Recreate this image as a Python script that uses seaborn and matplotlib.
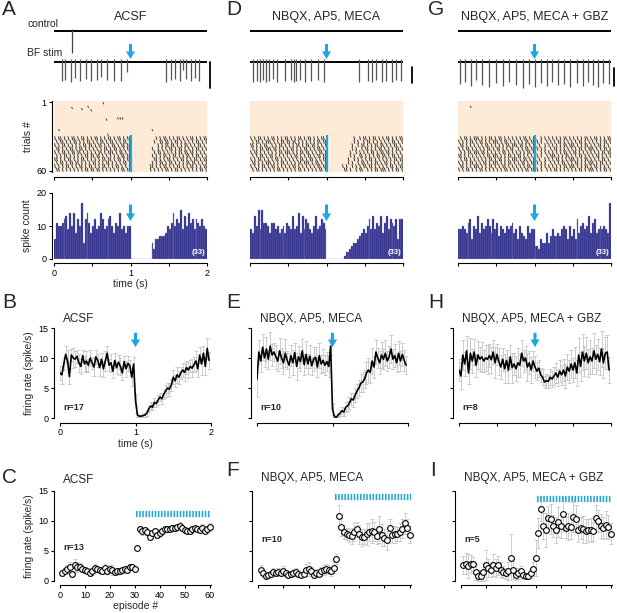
import numpy as np
import pandas as pd
import matplotlib
matplotlib.use("Agg")
import matplotlib.pyplot as plt
from matplotlib.collections import LineCollection
import seaborn as sns

# ---------------------------------------------------------------------------
# Style
# ---------------------------------------------------------------------------
sns.set_theme(style="ticks")
plt.rcParams.update({
    "font.family": ["Liberation Sans", "DejaVu Sans"],
    "axes.edgecolor": "black",
    "axes.linewidth": 0.8,
    "xtick.major.size": 2.5,
    "ytick.major.size": 2.5,
    "xtick.major.width": 0.8,
    "ytick.major.width": 0.8,
    "xtick.labelsize": 6.5,
    "ytick.labelsize": 6.5,
    "xtick.major.pad": 1.5,
    "ytick.major.pad": 1.5,
    "xtick.color": "black",
    "ytick.color": "black",
})

BLUE = "#1EA7DF"
NAVY = "#2B2A88"
PEACH = "#FDEBD7"
ERR_GREY = "#C4C4C4"

# ---------------------------------------------------------------------------
# Data
# ---------------------------------------------------------------------------
TITLES = ["ACSF", "NBQX, AP5, MECA", "NBQX, AP5, MECA + GBZ"]

# example traces: spike times (s) and spike amplitude (px, downward)
A_CTRL_SPIKES = [0.23]
A_STIM_SPIKES = [0.10, 0.15, 0.22, 0.27, 0.34, 0.42, 0.49, 0.56, 0.61, 0.69, 0.78,
                 0.87, 0.96, 1.47, 1.53, 1.58, 1.65, 1.68, 1.73, 1.79, 1.84, 1.90]
A_STIM_DEPTH = [19, 18, 20, 16, 19, 17, 19, 18, 15, 18, 19,
                19, 10, 20, 18, 17, 19, 8, 17, 19, 16, 19]
D_CTRL_SPIKES = []
D_STIM_SPIKES = [0.035, 0.087, 0.13, 0.17, 0.21, 0.25, 0.30, 0.35, 0.46, 0.53, 0.57, 0.60, 0.65,
                 0.72, 0.80, 0.89, 0.97, 1.43, 1.54, 1.59, 1.65, 1.72, 1.78, 1.85, 1.91, 1.98]
D_STIM_DEPTH = [20, 19, 20, 18, 20, 19, 17, 20, 19, 18, 20, 19, 18,
                20, 19, 18, 20, 20, 19, 20, 18, 20, 19, 20, 18, 19]
G_CTRL_SPIKES = []
G_STIM_SPIKES = [0.02, 0.09, 0.17, 0.24, 0.32, 0.41, 0.50, 0.59, 0.67, 0.76, 0.85, 0.93, 1.00,
                 1.09, 1.16, 1.23, 1.31, 1.38, 1.46, 1.55, 1.64, 1.70, 1.77, 1.83, 1.90, 1.97]
G_STIM_DEPTH = [22, 20, 24, 18, 23, 25, 21, 24, 20, 23, 26, 22, 25,
                21, 24, 20, 23, 22, 25, 21, 24, 20, 23, 25, 21, 22]

# raster: isolated spikes in early trials
A_STRAY_T = [0.23, 0.36, 0.44, 0.48, 0.64, 0.68, 0.83, 0.86, 0.89, 0.06, 0.70, 1.28]
A_STRAY_TRIAL = [6, 7, 5, 8, 2, 16, 15, 15, 15, 25, 29, 25]
D_STRAY_T = []
D_STRAY_TRIAL = []
G_STRAY_T = [0.16]
G_STRAY_TRIAL = [5]

# raster: dense block, one string per group of 3 trials, one char per 25 ms bin
RASTER_TRIALS = [32, 35, 38, 41, 44, 47, 50, 53, 56, 59]
A_RASTER = [
    "|.||.|.|.| |.|.||.|.| .||.|.|.|| .|.||.|.|| .......... ...|.|.||. |.|.||.|.| .||.|.|.||",
    ".|.||.|.|. ||.|.|.||. |.|.||.|.| |.|.|.||.| .......... ..|..||.|| .|.||.|.|. |.|.||.|.|",
    "|.|.||.|.| .|.|.||.|| .|.||.|.|. ||.|.||.|| .......... ....|.|.|| .||.|.|.|| .|.|.||.|.",
    ".||.|.|.|| .|.||.|.|. |.|.|.||.| .||.|.|.|| .......... .|..|.|.|. ||.|.||.|. |.|.||.|.|",
    "|.|.||.|.| |.||.|.|.| .|.||.|.|| |.|.||.|.| .......... ..|.||.|.| .|.|.||.|| .||.|.|.|.",
    ".|.|.||.|. |.|.|.||.| |.||.|.|.| .|.|.||.|| .......... .|.|.|.||. |.||.|.|.| |.|.||.|.|",
    "||.|.|.||. |.|.||.|.| .|.|.||.|| .|.||.|.|| .......... ..||.|.|.| |.|.|.||.| .|.||.|.||",
    ".|.||.|.|| .||.|.|.|. ||.|.|.||. |.|.|.||.| .......... .|.|.||.|. ||.|.|.|.| |.||.|.|.|",
    "|.|.|.||.| .|.||.|.|| .|.|.||.|. |.||.|.|.| .......... ||.|.|.||. |.|.||.|.| .||.|.|.||",
    ".||.|.|.|. |.|.|.||.| |.||.|.|.| .|.|.||.|| .......... |.|.|.|.|| .|.||.|.|. |.|.|.||.|",
]
D_RASTER = [
    "|.|.||.|.| .||.|.|.|| .|.|.||.|. ||.|.|.||. .......... ....|..|.| |.|.||.|.| .||.|.|.||",
    ".|.||.|.|| |.|.|.||.| |.||.|.|.| .|.|.||.|| .......... ....|.|..| .||.|.|.|. |.|.||.|.|",
    "||.|.|.||. .|.|.||.|. |.|.||.|.| |.||.|.|.| .......... ...|..|.|| .|.|.||.|| .|.|.||.|.",
    ".|.|.||.|| |.||.|.|.| .||.|.|.|| .|.|.||.|. .......... ...|.|..|. ||.|.|.||. |.|.|.||.|",
    "|.||.|.|.| .|.|.||.|| |.|.|.||.| |.|.|.||.| .......... ..|..|.|.| .|.||.|.|| .||.|.|.|.",
    ".|.|.||.|. ||.|.|.|.| .|.||.|.|. ||.|.||.|| .......... ..|.|..||. |.|.|.||.| |.|.||.|.|",
    "|.|.||.|.| .|.||.|.|. |.|.|.||.| .||.|.|.|| .......... .|..|.|.|. |.||.|.|.| .|.|.||.||",
    ".||.|.|.|| |.|.|.||.| .|.|.||.|| |.|.||.|.| .......... .|.|..|.|| .|.|.||.|. ||.|.|.|.|",
    "|.|.|.||.| .||.|.|.|. |.||.|.|.| .|.|.||.|| ........|. |..|.|.|.| |.||.|.|.| .|.||.|.||",
    ".|.||.|.|. |.|.||.|.| .|.|.||.|. |.|.|.||.| .........| |.|..|.||. .|.|.||.|| |.|.|.||.|",
]
G_RASTER = [
    ".|.||.|.|| |.|.|.||.| .||.|.|.|. |.|.||.|.| |..|.|.|.| .|.|.||.|. |.|.|.||.| .||.|.|.||",
    "|.|.|.||.| .||.|.|.|| |.|.||.|.| .|.|.||.|| .|.|..|.|. |.||.|.|.| .|.||.|.|. |.|.|.||.|",
    ".||.|.|.|. |.|.||.|.| .|.|.||.|| |.||.|.|.| |.|..|.|.| .|.|.||.|| |.|.|.||.| .|.||.|.|.",
    "|.|.||.|.| .|.|.||.|. ||.|.|.||. .|.|.||.|| .|.|.|..|. ||.|.|.|.| .|.||.|.|| |.|.|.||.|",
    ".|.|.||.|| |.||.|.|.| .|.||.|.|. |.|.|.||.| |..|.|.|.| .|.|.||.|. ||.|.|.|.| .|.|.||.||",
    "||.|.|.|.| .|.|.||.|| |.|.|.||.| .||.|.|.|. .|.|..|.|| |.|.|.||.| .|.||.|.|. |.||.|.|.|",
    ".|.||.|.|. |.|.|.||.| .||.|.|.|| |.|.||.|.| |.|..|.|.| .||.|.|.|| |.|.|.||.| .|.|.||.|.",
    "|.|.|.||.| .|.||.|.|| |.|.|.||.| .|.||.|.|| .|.|.|..|. |.|.||.|.| .||.|.|.|| |.|.||.|.|",
    ".||.|.|.|| |.|.|.||.| .|.||.|.|. |.|.|.||.| |..|.|.|.| .|.|.||.|| |.|.|.||.| .||.|.|.|.",
    "|.|.||.|.| .||.|.|.|. |.|.||.|.| .|.|.||.|| .|.|..|.|. ||.|.|.|.| .|.||.|.|| |.|.|.||.|",
]

# peri-stimulus histograms (spike counts per 25 ms bin, 0-2 s)
A_HIST = [6, 11, 10, 10, 11, 12, 13, 9, 14, 10, 14, 8, 12, 10, 17, 5, 12, 14, 11, 8,
          10, 12, 9, 10, 14, 12, 9, 10, 12, 13, 10, 8, 11, 10, 14, 9, 10, 8, 10, 10,
          0, 0, 0, 0, 0, 0, 0, 0, 0, 0, 0, 5, 3, 6, 6, 7, 7, 7, 8, 10,
          9, 11, 14, 10, 12, 11, 15, 9, 13, 10, 14, 11, 12, 9, 12, 11, 10, 12, 10, 9]
D_HIST = [9, 8, 13, 10, 15, 9, 15, 11, 11, 10, 8, 11, 11, 9, 10, 8, 9, 10, 8, 11,
          10, 9, 13, 9, 10, 14, 8, 13, 9, 12, 11, 9, 8, 10, 13, 9, 10, 12, 11, 9,
          0, 0, 0, 0, 0, 0, 0, 0, 0, 1, 2, 2, 3, 4, 5, 5, 6, 7, 8, 9,
          8, 10, 12, 9, 13, 9, 11, 10, 13, 8, 11, 13, 9, 12, 11, 10, 12, 6, 12, 12]
G_HIST = [9, 9, 10, 9, 8, 11, 12, 6, 10, 9, 13, 8, 11, 9, 10, 12, 10, 8, 12, 9,
          11, 7, 10, 9, 8, 10, 9, 10, 11, 8, 9, 6, 10, 8, 7, 6, 10, 8, 9, 9,
          4, 4, 3, 6, 5, 5, 8, 5, 7, 9, 7, 7, 8, 7, 9, 10, 9, 6, 10, 7,
          9, 6, 12, 8, 10, 11, 9, 10, 13, 8, 11, 12, 8, 9, 10, 9, 10, 9, 8, 17]

# population firing rate (spike/s), 25 ms bins, mean and SEM
B_MEAN = [7.5, 7.2, 9.0, 10.6, 9.5, 6.9, 10.5, 10.0, 9.8, 10.3, 9.2, 8.6, 10.4, 9.0, 9.5, 8.8, 10.0, 9.2, 8.5, 10.2,
          9.6, 8.4, 9.8, 8.2, 9.5, 10.8, 8.8, 9.2, 7.8, 9.6, 8.4, 9.3, 8.6, 7.5, 9.4, 8.2, 9.1, 8.7, 6.8, 9.0,
          3.0, 0.5, 0.3, 0.3, 0.4, 0.5, 0.8, 1.5, 2.0, 1.8, 2.6, 2.4, 3.0, 3.5, 3.2, 4.0, 4.5, 5.0, 4.8, 5.5,
          6.8, 6.2, 7.2, 6.8, 7.5, 8.0, 7.6, 8.4, 8.0, 8.6, 8.3, 8.9, 9.5, 8.2, 10.5, 9.0, 10.8, 8.6, 11.6, 9.6]
B_SEM = [1.2, 1.5, 1.0, 1.4, 1.8, 1.2, 1.0, 1.6, 1.3, 1.1, 1.5, 1.2, 1.0, 1.4, 1.7, 1.1, 1.3, 1.0, 1.5, 1.2,
         1.1, 1.4, 1.0, 1.3, 1.6, 1.2, 1.0, 1.5, 1.1, 1.3, 1.0, 1.2, 1.4, 1.1, 1.0, 1.3, 1.2, 1.0, 1.5, 1.1,
         1.0, 0.3, 0.2, 0.2, 0.3, 0.3, 0.4, 0.5, 0.6, 0.5, 0.7, 0.6, 0.8, 0.7, 0.9, 0.8, 1.0, 0.9, 1.1, 1.0,
         1.2, 1.0, 1.3, 1.1, 1.0, 1.2, 1.4, 1.1, 1.3, 1.0, 1.5, 1.2, 1.6, 1.3, 1.4, 1.8, 1.2, 1.5, 1.7, 1.4]
E_MEAN = [6.5, 11.0, 9.5, 11.8, 10.0, 11.5, 9.8, 12.0, 10.5, 11.0, 10.2, 9.5, 11.2, 10.0, 9.2, 10.8, 9.6, 8.8, 10.4, 9.2,
          10.9, 8.6, 10.2, 9.4, 11.2, 8.9, 10.6, 9.0, 10.3, 8.7, 9.8, 10.1, 8.5, 10.4, 9.0, 9.6, 8.8, 9.4, 8.6, 12.0,
          1.5, 0.2, 0.1, 0.5, 0.8, 1.2, 1.0, 1.8, 2.0, 2.5, 3.2, 3.0, 3.8, 4.5, 5.0, 5.8, 6.0, 6.5, 7.5, 8.0,
          7.6, 9.5, 8.5, 11.0, 10.0, 9.2, 10.5, 9.8, 10.8, 9.5, 10.2, 11.5, 9.8, 10.4, 9.2, 10.8, 9.5, 10.6, 9.6, 8.8]
E_SEM = [3.0, 2.0, 1.8, 2.2, 1.5, 2.0, 1.6, 2.4, 1.8, 1.5, 2.0, 1.7, 2.2, 1.6, 1.9, 2.3, 1.5, 2.0, 1.8, 2.1,
         1.6, 2.2, 1.8, 1.5, 2.0, 1.7, 2.3, 1.6, 1.9, 1.5, 2.0, 1.8, 1.6, 2.1, 1.5, 1.9, 1.7, 1.6, 1.8, 1.5,
         1.0, 0.3, 0.2, 0.4, 0.5, 0.6, 0.6, 0.8, 0.9, 1.0, 1.0, 1.1, 1.2, 1.2, 1.4, 1.5, 1.6, 1.5, 1.8, 2.0,
         1.7, 2.2, 1.8, 2.0, 1.6, 1.9, 2.1, 1.7, 2.2, 1.6, 1.8, 2.4, 1.7, 1.9, 1.5, 2.0, 1.6, 1.9, 1.7, 1.5]
H_MEAN = [8.0, 7.0, 10.5, 9.0, 11.2, 7.5, 10.8, 9.5, 11.0, 8.8, 10.5, 9.8, 10.2, 9.5, 10.0, 9.8, 10.4, 9.7, 11.0, 9.2,
          10.6, 9.4, 8.5, 9.8, 8.2, 9.6, 8.0, 10.2, 8.4, 9.0, 8.2, 9.2, 8.8, 10.8, 9.5, 10.0, 8.5, 9.2, 8.0, 9.5,
          8.5, 7.8, 8.3, 7.2, 6.8, 6.0, 6.2, 6.1, 6.8, 6.5, 7.0, 7.5, 6.8, 7.8, 7.2, 8.0, 7.0, 8.5, 7.8, 9.0,
          8.0, 9.2, 7.5, 10.5, 8.6, 11.0, 9.5, 10.8, 9.2, 10.2, 9.5, 11.2, 9.8, 10.6, 9.4, 11.5, 9.2, 10.8, 11.0, 8.0]
H_SEM = [1.8, 2.2, 2.5, 2.0, 2.4, 1.8, 2.6, 2.0, 2.2, 1.9, 2.3, 2.0, 2.5, 1.8, 2.1, 2.4, 1.9, 2.2, 2.0, 2.6,
         1.8, 2.3, 2.0, 1.9, 2.4, 1.7, 2.2, 2.0, 2.5, 1.8, 2.1, 2.4, 1.9, 2.2, 1.8, 2.0, 2.3, 1.9, 2.1, 1.7,
         1.8, 1.5, 1.4, 1.2, 1.3, 1.0, 1.2, 1.1, 1.3, 1.4, 1.5, 1.6, 1.4, 1.8, 1.7, 1.9, 2.0, 2.2, 1.9, 2.4,
         2.0, 2.6, 2.2, 2.8, 2.4, 3.0, 2.5, 2.7, 2.3, 2.8, 2.2, 2.9, 2.4, 2.6, 2.3, 3.0, 2.5, 2.7, 2.8, 2.2]

# firing rate per episode (1-60), mean and SEM
EPISODES = list(range(1, 61))
C_MEAN = [1.3, 1.6, 2.0, 2.4, 1.1, 2.6, 2.3, 2.4, 2.0, 1.8, 1.6, 1.4, 1.6, 2.1, 2.0, 1.8, 1.7, 2.1, 1.6, 2.0,
          1.8, 1.5, 1.6, 1.7, 1.8, 2.0, 1.9, 2.3, 2.3, 2.0, 5.5, 8.6, 8.3, 8.5, 8.2, 7.4, 8.0, 8.4, 7.6, 8.0,
          8.4, 8.6, 8.7, 8.7, 8.8, 8.8, 9.0, 9.2, 8.8, 8.5, 8.3, 8.4, 8.7, 8.8, 8.6, 8.5, 8.9, 8.4, 8.7, 9.0]
C_SEM = [0.4, 0.5, 0.6, 0.7, 0.5, 1.0, 0.8, 0.6, 0.5, 0.5, 0.4, 0.5, 0.6, 0.7, 0.5, 0.6, 0.5, 0.7, 0.4, 0.6,
         0.8, 0.5, 0.6, 0.5, 0.4, 0.5, 0.6, 0.5, 0.4, 0.5, 0.4, 0.5, 0.6, 0.4, 0.5, 0.6, 0.5, 0.4, 0.5, 0.6,
         0.5, 0.4, 0.5, 0.4, 0.5, 0.4, 0.5, 0.6, 0.5, 0.4, 0.5, 0.6, 0.5, 0.4, 0.5, 0.5, 0.6, 0.4, 0.5, 0.6]
F_MEAN = [1.8, 1.3, 0.8, 1.0, 1.2, 1.5, 1.4, 1.5, 1.4, 1.7, 1.3, 1.0, 1.2, 1.4, 1.5, 1.2, 1.0, 1.2, 1.8, 2.0,
          1.6, 1.0, 1.4, 1.2, 1.6, 1.8, 2.0, 1.9, 1.6, 2.2, 3.7, 10.9, 9.0, 8.2, 7.8, 7.6, 7.5, 8.2, 8.6, 7.8,
          7.3, 7.4, 7.8, 8.1, 8.4, 8.2, 7.5, 8.6, 7.7, 7.2, 6.8, 8.8, 7.6, 7.8, 7.8, 8.2, 8.7, 9.6, 8.9, 7.7]
F_SEM = [0.8, 0.6, 0.4, 0.5, 0.5, 0.6, 0.5, 0.7, 0.5, 0.8, 0.6, 0.5, 0.5, 0.6, 0.7, 0.5, 0.4, 0.6, 1.0, 1.2,
         0.8, 0.5, 0.6, 0.5, 0.7, 0.8, 0.9, 0.8, 0.7, 0.9, 0.8, 1.8, 1.5, 1.2, 1.0, 1.1, 1.3, 1.5, 1.2, 1.6,
         1.4, 1.2, 1.8, 1.5, 2.0, 1.6, 1.3, 2.2, 1.8, 1.4, 1.6, 1.5, 1.3, 1.4, 1.2, 1.5, 1.6, 1.8, 1.5, 1.4]
I_MEAN = [2.7, 2.9, 2.5, 2.9, 2.8, 1.5, 0.8, 0.9, 1.5, 2.7, 2.2, 1.9, 2.7, 2.2, 2.6, 1.9, 1.5, 1.3, 1.6, 3.8,
          1.8, 1.0, 1.3, 1.7, 1.0, 0.8, 0.8, 1.3, 2.0, 3.8, 8.0, 12.0, 9.2, 8.5, 10.5, 10.3, 9.2, 8.5, 9.8, 9.2,
          11.2, 8.9, 9.1, 9.0, 10.6, 10.4, 8.5, 8.8, 8.6, 8.3, 8.5, 8.5, 8.3, 10.5, 10.0, 9.2, 8.8, 9.4, 9.0, 7.9]
I_SEM = [1.5, 1.8, 2.0, 1.5, 1.2, 1.3, 0.8, 0.9, 1.5, 2.5, 1.5, 1.2, 1.8, 1.5, 1.6, 1.2, 1.0, 0.9, 1.5, 4.0,
         1.5, 0.8, 0.9, 0.8, 0.6, 0.5, 0.5, 0.8, 1.2, 3.0, 2.5, 2.0, 2.2, 2.8, 2.0, 2.5, 1.8, 2.2, 2.5, 2.0,
         2.8, 1.8, 2.2, 2.0, 2.5, 2.2, 2.0, 1.8, 2.2, 2.0, 1.8, 2.0, 1.6, 2.2, 1.8, 2.0, 1.8, 2.2, 2.0, 1.8]

N_CELLS_RATE = ["n=17", "n=10", "n=8"]
N_CELLS_EPISODE = ["n=13", "n=10", "n=5"]
HIST_TRIALS = "(33)"

BIN = 0.025
EDGES = [round(i * BIN, 4) for i in range(81)]
BIN_CENTERS = [e + BIN / 2 for e in EDGES[:-1]]
RATE_T = EDGES[:-1]

# ---------------------------------------------------------------------------
# Figure helpers (pixel layout of a 617 x 613 canvas)
# ---------------------------------------------------------------------------
W, H = 617, 613
fig = plt.figure(figsize=(W / 100, H / 100), dpi=100)
fig.patch.set_facecolor("white")


def add_ax(l, t, r, b):
    return fig.add_axes([l / W, 1 - b / H, (r - l) / W, (b - t) / H])


def ftext(x, y, s, **kw):
    fig.text(x / W, 1 - y / H, s, **kw)


def down_arrow(ax, y_from, y_to):
    ax.annotate("", xy=(1, y_to), xytext=(1, y_from),
                arrowprops=dict(facecolor=BLUE, edgecolor="none", width=2.2,
                                headwidth=6.5, headlength=5.5, shrink=0),
                annotation_clip=False)


def raster_ticks(ax, times, trials, length):
    # short slanted spike marks, as in the original raster
    segs = [[(t, tr - length / 2), (t + 0.012, tr + length / 2)]
            for t, tr in zip(times, trials)]
    ax.add_collection(LineCollection(segs, colors="#2E2E2E", linewidths=0.65))


def draw_column(x0, x1, title, ctrl, stim, depth, sbar, stray_t, stray_tr,
                rows, counts, first):
    ftext((x0 + x1) / 2, 17, title, ha="center", va="center", fontsize=9)

    # example traces --------------------------------------------------------
    ax = add_ax(x0, 20, x1, 90)
    ax.set_xlim(0, 2)
    ax.set_ylim(-70, 0)
    ax.axis("off")
    ax.plot([0, 2], [-11, -11], color="black", lw=1.4)
    ax.plot([0, 2], [-42, -42], color="black", lw=1.4)
    if ctrl:
        ax.vlines(ctrl, -13 - 20, -9, colors="#444444", lw=0.9)
    ax.vlines(stim, -42 - np.array(depth), -39, colors="#555555", lw=0.9)
    down_arrow(ax, -24, -39)
    bx, btop, bbot = sbar
    ax.plot([bx, bx], [-(btop - 20), -(bbot - 20)], color="black", lw=1.3,
            clip_on=False)

    # raster ---------------------------------------------------------------
    ax = add_ax(x0, 101, x1, 172)
    ax.set_facecolor(PEACH)
    ax.set_xlim(0, 2)
    ax.set_ylim(61, 0)
    times, trials = [], []
    for r, tr in zip(rows, RASTER_TRIALS):
        for i, c in enumerate(r.replace(" ", "")):
            if c == "|":
                times.append((i + 0.3) * BIN)
                trials.append(tr)
    raster_ticks(ax, times, trials, 3.3)
    if stray_t:
        raster_ticks(ax, stray_t, stray_tr, 1.8)
    ax.vlines(1, 29.5, 61, colors=BLUE, lw=1.6)
    ax.set_xticks([0, 0.5, 1, 1.5, 2])
    ax.set_xticklabels([])
    ax.set_yticks([1, 60])
    ax.grid(False)
    sns.despine(ax=ax, offset={"left": 1.5, "bottom": 3.5})
    if first:
        ax.set_ylabel("trials #", fontsize=7.5, labelpad=2)
    else:
        ax.spines["left"].set_visible(False)
        ax.tick_params(left=False, labelleft=False)

    # histogram ------------------------------------------------------------
    ax = add_ax(x0, 193, x1, 259)
    hist_df = pd.DataFrame({"t": BIN_CENTERS, "count": counts})
    sns.histplot(data=hist_df, x="t", weights="count", bins=EDGES, color=NAVY,
                 edgecolor="#8A8AC8", linewidth=0.25, alpha=1, ax=ax)
    ax.set_xlim(0, 2)
    ax.set_ylim(0, 20)
    ax.set_xticks([0, 0.5, 1, 1.5, 2])
    ax.set_yticks([0, 10, 20])
    ax.text(1.98, 0.8, HIST_TRIALS, color="white", fontsize=5.5,
            fontweight="bold", ha="right", va="bottom")
    down_arrow(ax, 16.5, 11.5)
    sns.despine(ax=ax, offset={"left": 1.5, "bottom": 3})
    ax.set_xlabel("")
    ax.set_ylabel("")
    if first:
        ax.set_xticklabels(["0", "", "1", "", "2"])
        ax.set_ylabel("spike count", fontsize=7.5, labelpad=3)
        ax.set_xlabel("time (s)", fontsize=7.5, labelpad=1)
    else:
        ax.set_xticklabels([])
        ax.spines["left"].set_visible(False)
        ax.tick_params(left=False, labelleft=False)


def draw_rate(x0, x1, title, mean, sem, nlab, xticks, first):
    ax = add_ax(x0, 328, x1, 418)
    ax.errorbar(RATE_T, mean, yerr=sem, fmt="none", ecolor=ERR_GREY,
                elinewidth=0.6, capsize=1.5, capthick=0.6, zorder=1)
    sns.lineplot(x=RATE_T, y=mean, color="black", lw=1.2, ax=ax, zorder=3)
    down_arrow(ax, 14.2, 11.8)
    ax.set_xlim(0, 2)
    ax.set_ylim(0, 15)
    ax.set_xticks(xticks)
    ax.set_yticks([0, 5, 10, 15])
    sns.despine(ax=ax, offset={"left": 4.5, "bottom": 3.5})
    ftext(x0 + 3, 319, title, ha="left", va="center", fontsize=8.5)
    ftext(x0 + 3, 407, nlab, ha="left", va="center", fontsize=6.5,
          fontweight="bold")
    if first:
        ax.set_xticklabels(["0", "1", "2"])
        ax.set_xlabel("time (s)", fontsize=7.5, labelpad=1)
        ax.set_ylabel("firing rate (spike/s)", fontsize=7.3, labelpad=3)
    else:
        ax.set_xticklabels([])
        ax.set_yticklabels([])
        ax.set_xlabel("")
        ax.set_ylabel("")


def draw_episodes(x0, x1, title, mean, sem, nlab, stim_level, title_y, n_y, first):
    ax = add_ax(x0, 491, x1, 581)
    ax.errorbar(EPISODES, mean, yerr=sem, fmt="none", ecolor=ERR_GREY,
                elinewidth=0.6, capsize=1.5, capthick=0.6, zorder=1)
    sns.scatterplot(x=EPISODES, y=mean, marker="o", s=17, color="white",
                    edgecolor="black", linewidth=0.8, ax=ax, zorder=3,
                    clip_on=False)
    ax.hlines(stim_level, 30.6, 60.4, colors=BLUE, lw=4.5,
              linestyles=(0, (0.25, 0.25)))
    ax.set_xlim(0, 60.5)
    ax.set_ylim(0, 15)
    ax.set_xticks(range(0, 61, 10))
    ax.set_yticks([0, 5, 10, 15])
    sns.despine(ax=ax, offset={"left": 4.5, "bottom": 3})
    ftext(x0 + 3, title_y, title, ha="left", va="center", fontsize=8.5)
    ftext(x0 + 3, n_y, nlab, ha="left", va="center", fontsize=6.5,
          fontweight="bold")
    if first:
        ax.set_xlabel("episode #", fontsize=7.5, labelpad=1)
        ax.set_ylabel("firing rate (spike/s)", fontsize=7.3, labelpad=3)
    else:
        ax.set_xticklabels([])
        ax.set_yticklabels([])
        ax.set_xlabel("")
        ax.set_ylabel("")


# ---------------------------------------------------------------------------
# Panels
# ---------------------------------------------------------------------------
draw_column(54, 207, TITLES[0], A_CTRL_SPIKES, A_STIM_SPIKES, A_STIM_DEPTH,
            (2.04, 62, 88), A_STRAY_T, A_STRAY_TRIAL, A_RASTER, A_HIST, True)
draw_column(250, 403, TITLES[1], D_CTRL_SPIKES, D_STIM_SPIKES, D_STIM_DEPTH,
            (2.12, 67, 83), D_STRAY_T, D_STRAY_TRIAL, D_RASTER, D_HIST, False)
draw_column(458, 611, TITLES[2], G_CTRL_SPIKES, G_STIM_SPIKES, G_STIM_DEPTH,
            (2.04, 68, 86), G_STRAY_T, G_STRAY_TRIAL, G_RASTER, G_HIST, False)

ftext(27, 24, "control", ha="left", va="center", fontsize=7.5)
ftext(27, 53, "BF stim", ha="left", va="center", fontsize=7.5)

draw_rate(60, 211, TITLES[0], B_MEAN, B_SEM, N_CELLS_RATE[0], [0, 1, 2], True)
draw_rate(257, 408, TITLES[1], E_MEAN, E_SEM, N_CELLS_RATE[1], [0, 1, 2], False)
draw_rate(459, 611, TITLES[2], H_MEAN, H_SEM, N_CELLS_RATE[2],
          [0, 0.5, 1, 1.5, 2], False)

draw_episodes(60, 211, TITLES[0], C_MEAN, C_SEM, N_CELLS_EPISODE[0], 11.2, 480, 548, True)
draw_episodes(258, 411, TITLES[1], F_MEAN, F_SEM, N_CELLS_EPISODE[1], 14.0, 478, 540, False)
draw_episodes(461, 612, TITLES[2], I_MEAN, I_SEM, N_CELLS_EPISODE[2], 13.6, 478, 540, False)

# panel letters
for letter, x, y in [("A", 2, 0), ("D", 226, 0), ("G", 428, 0),
                     ("B", 2, 293), ("E", 226, 293), ("H", 428, 293),
                     ("C", 2, 468), ("F", 226, 461), ("I", 430, 461)]:
    ftext(x, y, letter, ha="left", va="top", fontsize=15)

fig.savefig("out.png", dpi=100)
